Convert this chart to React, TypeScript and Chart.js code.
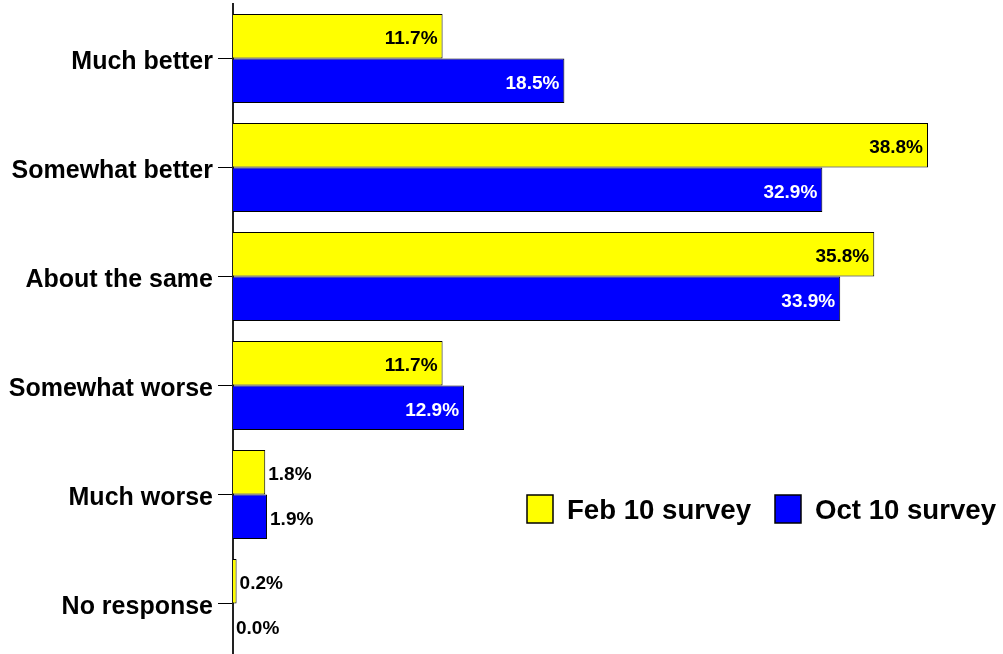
import React, { useEffect, useRef } from "react";
import { Chart, registerables } from "chart.js";

Chart.register(...registerables);

const categories = [
  "Much better",
  "Somewhat better",
  "About the same",
  "Somewhat worse",
  "Much worse",
  "No response",
];
const feb10 = [11.7, 38.8, 35.8, 11.7, 1.8, 0.2];
const oct10 = [18.5, 32.9, 33.9, 12.9, 1.9, 0.0];
const seriesNames = ["Feb 10 survey", "Oct 10 survey"];
const seriesColors = ["#FFFF00", "#0000FF"];
const insideLabelColors = ["#000000", "#FFFFFF"];

const FONT = "'Liberation Sans', Arial, Helvetica, sans-serif";

const valueLabelPlugin = {
  id: "valueLabels",
  afterDatasetsDraw(chart: any) {
    const ctx = chart.ctx;
    ctx.save();
    ctx.font = `bold 19px ${FONT}`;
    ctx.textBaseline = "middle";
    chart.data.datasets.forEach((ds: any, di: number) => {
      const meta = chart.getDatasetMeta(di);
      meta.data.forEach((el: any, i: number) => {
        const v = ds.data[i] as number;
        const text = v.toFixed(1) + "%";
        const w = ctx.measureText(text).width;
        const len = el.x - el.base;
        const y = el.y + 2.7;
        if (len > w + 10) {
          ctx.fillStyle = insideLabelColors[di];
          ctx.textAlign = "right";
          ctx.fillText(text, el.x - 5, y);
        } else {
          ctx.fillStyle = "#000000";
          ctx.textAlign = "left";
          ctx.fillText(text, el.x + 3, y);
        }
      });
    });
    ctx.restore();
  },
};

const legendPlugin = {
  id: "customLegend",
  afterDraw(chart: any) {
    const ctx = chart.ctx;
    ctx.save();
    const items = [
      { box: 527, text: 567 },
      { box: 775, text: 815 },
    ];
    ctx.font = `bold 27.6px ${FONT}`;
    ctx.textBaseline = "middle";
    ctx.textAlign = "left";
    items.forEach((it, i) => {
      ctx.fillStyle = seriesColors[i];
      ctx.fillRect(it.box, 495, 26, 28);
      ctx.strokeStyle = "#000000";
      ctx.lineWidth = 1.5;
      ctx.strokeRect(it.box, 495, 26, 28);
      ctx.fillStyle = "#000000";
      ctx.fillText(seriesNames[i], it.text, 511);
    });
    ctx.restore();
  },
};

export default function App() {
  const ref = useRef<HTMLCanvasElement | null>(null);
  useEffect(() => {
    if (!ref.current) return;
    const chart = new Chart(ref.current, {
      type: "bar",
      data: {
        labels: categories,
        datasets: [
          {
            label: seriesNames[0],
            data: feb10,
            backgroundColor: seriesColors[0],
            borderColor: "#000000",
            borderWidth: 1,
            barPercentage: 1,
            categoryPercentage: 0.818,
          },
          {
            label: seriesNames[1],
            data: oct10,
            backgroundColor: seriesColors[1],
            borderColor: "#000000",
            borderWidth: 1,
            barPercentage: 1,
            categoryPercentage: 0.818,
          },
        ],
      },
      options: {
        indexAxis: "y",
        responsive: false,
        animation: false,
        layout: { padding: { top: 4, right: 53.5, bottom: 0, left: 0 } },
        plugins: {
          legend: { display: false },
          tooltip: { enabled: false },
        },
        scales: {
          x: { display: false, min: 0, max: 40 },
          y: {
            type: "category",
            grid: {
              display: true,
              drawOnChartArea: false,
              drawTicks: true,
              tickLength: 15,
              color: "#000000",
              lineWidth: 1,
              offset: false,
            },
            border: { display: true, color: "#222222", width: 2 },
            ticks: {
              color: "#000000",
              padding: 5,
              labelOffset: 4,
              font: { family: FONT, size: 25, weight: "bold" },
            },
            afterFit: (s: any) => {
              s.width = 233;
              s.paddingTop = 0;
              s.paddingBottom = 0;
            },
          },
        },
      },
      plugins: [valueLabelPlugin, legendPlugin],
    } as any);
    return () => chart.destroy();
  }, []);
  return (
    <div
      style={{
        position: "fixed",
        left: 0,
        top: 0,
        width: 1003,
        height: 654,
        overflow: "hidden",
        background: "#ffffff",
      }}
    >
      <canvas ref={ref} width={1003} height={658} />
    </div>
  );
}
